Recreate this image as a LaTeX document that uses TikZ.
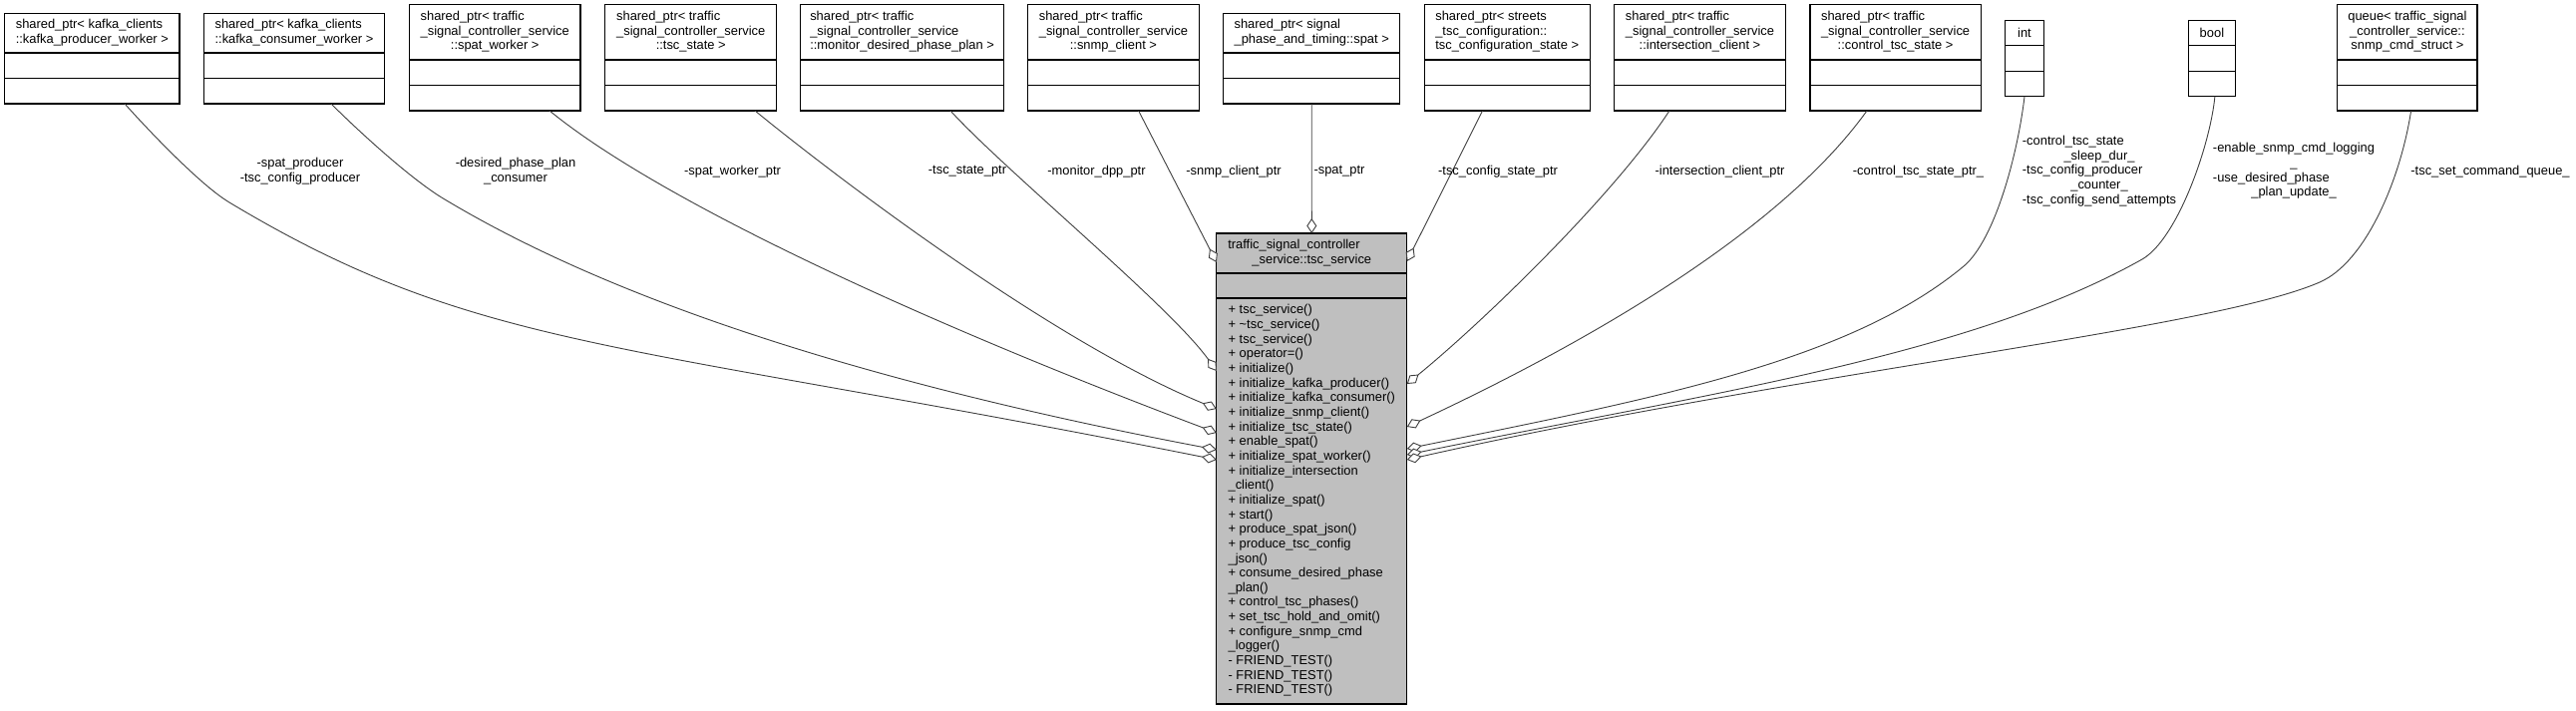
\documentclass[tikz,border=0pt]{standalone}
\usepackage{fontspec}
\setmainfont{Liberation Sans}
\usetikzlibrary{arrows.meta}
\definecolor{boxgray}{HTML}{BFBFBF}
\definecolor{edgegray}{HTML}{404040}
\newcommand\cln[1]{\multicolumn{1}{@{}c@{}}{#1}}
\newcommand\tl[1]{\begin{tabular}{@{}l@{}}#1\end{tabular}}
\newcommand\tc[1]{\begin{tabular}{@{}c@{}}#1\end{tabular}}
% #1 name, #2 centre x, #3 bottom y, #4 width, #5 header height, #6 header text
\newcommand\umlbox[6]{%
  \node[part, minimum width=#4pt, anchor=south] (#1c) at (#2,#3) {};
  \node[part, minimum width=#4pt, anchor=south] (#1b) at (#1c.north) {};
  \node[part, minimum width=#4pt, minimum height=#5pt, anchor=south] (#1) at (#1b.north) {#6};
}
\begin{document}
\begin{tikzpicture}[x=1pt,y=-1pt,
  every node/.style={font=\fontsize{12.9}{14.65}\selectfont, inner sep=0pt, outer sep=0pt},
  part/.style={draw=black, line width=1.2pt, fill=white, minimum height=25.5pt},
  cpart/.style={part, fill=boxgray},
  conn/.style={draw=edgegray, line width=0.9pt, -{Diamond[length=15pt,width=10pt,fill=white]}},
]
\fill[white] (0,0) rectangle (2583,712);
\useasboundingbox (0,0) rectangle (2583,712);

% ---------- top boxes ----------
\umlbox{b1}{92.35}{104}{175.3}{39.4}{\tl{shared\_ptr<~kafka\_clients\\::kafka\_producer\_worker~>}}
\umlbox{b2}{295}{104}{181}{39.4}{\tl{shared\_ptr<~kafka\_clients\\::kafka\_consumer\_worker~>}}
\umlbox{b3}{496.2}{111}{171.6}{55.7}{\tl{shared\_ptr<~traffic\\\_signal\_controller\_service\\\cln{::spat\_worker~>}}}
\umlbox{b4}{692.7}{111}{172}{55.7}{\tl{shared\_ptr<~traffic\\\_signal\_controller\_service\\\cln{::tsc\_state~>}}}
\umlbox{b5}{904.6}{111}{203.7}{55.7}{\tl{shared\_ptr<~traffic\\\_signal\_controller\_service\\::monitor\_desired\_phase\_plan~>}}
\umlbox{b6}{1116.4}{111}{172.4}{55.7}{\tl{shared\_ptr<~traffic\\\_signal\_controller\_service\\\cln{::snmp\_client~>}}}
\umlbox{b7}{1315.2}{104}{176.7}{39.4}{\tl{shared\_ptr<~signal\\\_phase\_and\_timing::spat~>}}
\umlbox{b8}{1511.2}{111}{166}{55.7}{\tl{shared\_ptr<~streets\\\_tsc\_configuration::\\tsc\_configuration\_state~>}}
\umlbox{b9}{1704.5}{111}{172.4}{55.7}{\tl{shared\_ptr<~traffic\\\_signal\_controller\_service\\\cln{::intersection\_client~>}}}
\umlbox{b10}{1900.6}{111}{171.2}{55.7}{\tl{shared\_ptr<~traffic\\\_signal\_controller\_service\\\cln{::control\_tsc\_state~>}}}
\umlbox{int}{2030}{96.7}{38.5}{25}{int}
\umlbox{bool}{2217.9}{96.7}{47}{25}{bool}
\umlbox{queue}{2413.9}{111}{140.3}{55.7}{\tc{queue<~traffic\_signal\\\_controller\_service::\\snmp\_cmd\_struct~>}}

% ---------- central class ----------
\node[cpart, minimum width=191pt, minimum height=407pt, anchor=north] (cm) at (1315.3,299) {\tl{%
+ tsc\_service()\\
+ \textasciitilde tsc\_service()\\
+ tsc\_service()\\
+ operator=()\\
+ initialize()\\
+ initialize\_kafka\_producer()\\
+ initialize\_kafka\_consumer()\\
+ initialize\_snmp\_client()\\
+ initialize\_tsc\_state()\\
+ enable\_spat()\\
+ initialize\_spat\_worker()\\
+ initialize\_intersection\\
\_client()\\
+ initialize\_spat()\\
+ start()\\
+ produce\_spat\_json()\\
+ produce\_tsc\_config\\
\_json()\\
+ consume\_desired\_phase\\
\_plan()\\
+ control\_tsc\_phases()\\
+ set\_tsc\_hold\_and\_omit()\\
+ configure\_snmp\_cmd\\
\_logger()\\
- FRIEND\_TEST()\\
- FRIEND\_TEST()\\
- FRIEND\_TEST()}};
\node[cpart, minimum width=191pt, minimum height=25pt, anchor=south] (ca) at (cm.north) {};
\node[cpart, minimum width=191pt, minimum height=40pt, anchor=south] (ch) at (ca.north)
  {\begin{tabular}{@{}p{168pt}@{}}traffic\_signal\_controller\\\cln{\_service::tsc\_service}\end{tabular}};

% ---------- connectors ----------
\draw[conn] ([xshift=32.7pt]b1c.south) .. controls (145,126.5) and (200,185) .. (230,203)
  .. controls (480,353) and (620,341) .. ([yshift=-162pt]cm.north west);
\draw[conn] ([xshift=37pt]b2c.south) .. controls (357,129) and (412,180) .. (446,200)
  .. controls (616,302) and (870,384.5) .. ([yshift=-152pt]cm.north west);
\draw[conn] ([xshift=54.8pt]b3c.south) .. controls (666.5,205.5) and (941,329) .. ([yshift=-135pt]cm.north west);
\draw[conn] ([xshift=64.3pt]b4c.south) .. controls (834,174) and (1053.5,341.6) .. ([yshift=-111pt]cm.north west);
\draw[conn] ([xshift=48.4pt]b5c.south) .. controls (1006.6,170) and (1173.6,307.2) .. ([yshift=-73pt]cm.north west);
\draw[conn] ([xshift=25.2pt]b6c.south) -- ([yshift=-29pt]ch.north west);
\draw[conn] (b7c.south) -- (ch.north);
\draw[conn] ([xshift=-24.6pt]b8c.south) -- ([yshift=-28pt]ch.north east);
\draw[conn] ([xshift=-30.5pt]b9c.south) .. controls (1619,195) and (1488,322) .. ([yshift=-86pt]cm.north east);
\draw[conn] ([xshift=-28.6pt]b10c.south) .. controls (1785,232.5) and (1591,344) .. ([yshift=-129pt]cm.north east);
\draw[conn] (intc.south) .. controls (2023,156) and (2000,241) .. (1969,267)
  .. controls (1853.5,363) and (1656,400) .. ([yshift=-151pt]cm.north east);
\draw[conn] ([xshift=3pt]boolc.south) .. controls (2216,146.7) and (2183,240) .. (2148,260)
  .. controls (1974,358) and (1705,396) .. ([yshift=-157pt]cm.north east);
\draw[conn] ([xshift=3.7pt]queuec.south) .. controls (2407,180) and (2372,263) .. (2326,283)
  .. controls (2216,331) and (1801,373) .. ([yshift=-162pt]cm.north east);

% ---------- labels ----------
\node (l1) at (301,172) {\tc{-spat\_producer\\-tsc\_config\_producer}};
\node (l2) at (517,172) {\tc{-desired\_phase\_plan\\\_consumer}};
\node (l3) at (734.5,172) {-spat\_worker\_ptr};
\node (l4) at (970,172) {-tsc\_state\_ptr};
\node (l5) at (1099.5,172) {-monitor\_dpp\_ptr};
\node (l6) at (1237,172) {-snmp\_client\_ptr};
\node (l7) at (1343,172) {-spat\_ptr};
\node (l8) at (1502,172) {-tsc\_config\_state\_ptr};
\node (l9) at (1724.5,172) {-intersection\_client\_ptr};
\node (l10) at (1923.5,172) {-control\_tsc\_state\_ptr\_};
\node (l11) at (2105,172) {\tl{-control\_tsc\_state\\\cln{\_sleep\_dur\_}\\-tsc\_config\_producer\\\cln{\_counter\_}\\-tsc\_config\_send\_attempts}};
\node (l12) at (2300,172) {\tl{-enable\_snmp\_cmd\_logging\\\cln{\_}\\-use\_desired\_phase\\\cln{\_plan\_update\_}}};
\node (l13) at (2497,172) {-tsc\_set\_command\_queue\_};
\end{tikzpicture}
\end{document}
